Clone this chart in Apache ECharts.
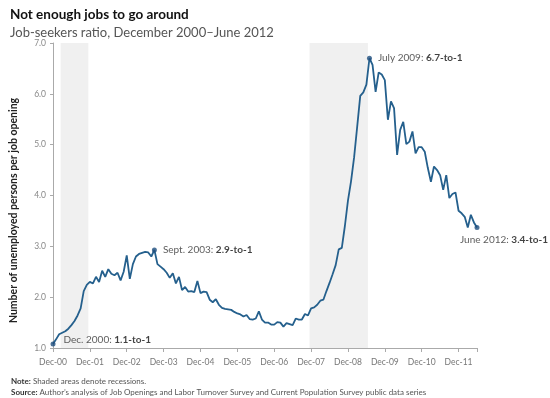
<!DOCTYPE html>
<html>
<head>
<meta charset="utf-8">
<script src="https://cdn.jsdelivr.net/npm/echarts@6/dist/echarts.min.js"></script>
<style>
  html, body { margin: 0; padding: 0; background: #fff; }
  #main { width: 550px; height: 398px; }
</style>
</head>
<body>
<div id="main"></div>
<script>
// job-seekers ratio, monthly, Dec 2000 (index 0) to June 2012 (index 138)
const ratio = [
  1.08,                                                                   // Dec-00
  1.17, 1.27, 1.30, 1.33, 1.38, 1.45, 1.53, 1.64, 1.78, 2.12, 2.24, 2.30, // 2001
  2.27, 2.40, 2.30, 2.52, 2.40, 2.55, 2.46, 2.43, 2.48, 2.33, 2.50, 2.82, // 2002
  2.36, 2.65, 2.80, 2.85, 2.87, 2.89, 2.88, 2.80, 2.93, 2.65, 2.60, 2.55, // 2003
  2.48, 2.38, 2.47, 2.27, 2.40, 2.14, 2.20, 2.11, 2.12, 2.10, 2.32, 2.08, // 2004
  2.11, 2.10, 1.95, 1.90, 1.96, 1.85, 1.79, 1.77, 1.76, 1.75, 1.71, 1.68, // 2005
  1.66, 1.62, 1.65, 1.57, 1.56, 1.58, 1.72, 1.56, 1.50, 1.50, 1.46, 1.46, // 2006
  1.51, 1.50, 1.42, 1.49, 1.47, 1.45, 1.58, 1.56, 1.56, 1.67, 1.64, 1.78, // 2007
  1.80, 1.85, 1.93, 1.95, 2.12, 2.28, 2.45, 2.63, 2.94, 2.97, 3.40, 3.90, // 2008
  4.28, 4.75, 5.35, 5.96, 6.03, 6.18, 6.70, 6.57, 6.04, 6.42, 6.38, 6.27, // 2009
  5.49, 5.85, 5.72, 4.80, 5.29, 5.45, 5.01, 5.06, 5.26, 4.83, 4.95, 4.95, // 2010
  4.86, 4.54, 4.27, 4.57, 4.50, 4.40, 4.11, 4.40, 3.95, 4.03, 4.06, 3.70, // 2011
  3.65, 3.58, 3.37, 3.62, 3.47, 3.37                                      // 2012
];

const tickLabels = ['Dec-00', 'Dec-01', 'Dec-02', 'Dec-03', 'Dec-04', 'Dec-05',
  'Dec-06', 'Dec-07', 'Dec-08', 'Dec-09', 'Dec-10', 'Dec-11'];

// recessions, first and last month (index from Dec 2000)
const recessionStart = [3, 84];
const recessionEnd = [11, 102];

// called-out points
const calloutIndex = [0, 33, 103, 138];
const calloutDate = ['Dec. 2000', 'Sept. 2003', 'July 2009', 'June 2012'];
const calloutText = ['1.1-to-1', '2.9-to-1', '6.7-to-1', '3.4-to-1'];

const FONT = 'Lato';
const LINE = '#25608d';

const chart = echarts.init(document.getElementById('main'));

const lineData = ratio.map((v, i) => [i, v]);

const callouts = calloutIndex.map((idx, k) => {
  const last = k === calloutIndex.length - 1;
  return {
    value: [idx, ratio[idx]],
    label: {
      show: true,
      position: last ? 'bottom' : 'right',
      distance: last ? 5 : 6,
      offset: last ? [27, 0] : (k === 0 ? [2, -4] : [0, 0]),
      formatter: '{n|' + calloutDate[k] + ': }{b|' + calloutText[k] + '}'
    }
  };
});

const noteRich = { b: { fontFamily: FONT, fontSize: 8, fontWeight: 'bold', color: '#333' } };

const option = {
  animation: false,
  textStyle: { fontFamily: FONT },
  title: [
    {
      text: 'Not enough jobs to go around',
      subtext: 'Job-seekers ratio, December 2000\u2013June 2012',
      left: 5,
      top: 3,
      itemGap: 4,
      textStyle: { fontFamily: FONT, fontSize: 13.5, fontWeight: 'bold', color: '#111' },
      subtextStyle: { fontFamily: FONT, fontSize: 13, color: '#555' }
    },
    {
      text: '{b|Note:} Shaded areas denote recessions.',
      left: 6,
      top: 372,
      textStyle: { fontFamily: FONT, fontSize: 8, fontWeight: 'normal', color: '#555', rich: noteRich }
    },
    {
      text: '{b|Source:} Author\u2019s analysis of Job Openings and Labor Turnover Survey and Current Population Survey public data series',
      left: 6,
      top: 383,
      textStyle: { fontFamily: FONT, fontSize: 8, fontWeight: 'normal', color: '#555', rich: noteRich }
    }
  ],
  grid: { left: 50, right: 73, top: 43, bottom: 50 },
  xAxis: {
    type: 'value',
    min: 0,
    max: ratio.length - 1,
    interval: 12,
    splitLine: { show: false },
    axisLine: { lineStyle: { color: '#aaa', width: 1 } },
    axisTick: { show: true, length: 4, lineStyle: { color: '#aaa' } },
    axisLabel: {
      margin: 10,
      fontFamily: FONT,
      fontSize: 8.5,
      color: '#777',
      formatter: v => (v % 12 === 0 ? tickLabels[v / 12] : '')
    }
  },
  yAxis: {
    type: 'value',
    min: 1,
    max: 7,
    interval: 1,
    name: 'Number of unemployed persons per job opening',
    nameLocation: 'middle',
    nameGap: 34,
    nameTextStyle: {
      fontFamily: FONT, fontSize: 10.5, fontWeight: 'bold', color: '#222',
      padding: [0, 30, 0, 0]
    },
    splitLine: { show: false },
    axisLine: { show: true, lineStyle: { color: '#aaa', width: 1 } },
    axisTick: { show: true, length: 3, lineStyle: { color: '#aaa' } },
    axisLabel: {
      margin: 7,
      fontFamily: FONT,
      fontSize: 8.5,
      color: '#888',
      formatter: v => v.toFixed(1)
    }
  },
  series: [
    {
      type: 'line',
      data: lineData,
      showSymbol: false,
      symbol: 'none',
      lineStyle: { color: LINE, width: 1.8 },
      z: 3,
      markArea: {
        silent: true,
        itemStyle: { color: '#f0f0f0' },
        data: recessionStart.map((s, k) => [
          { xAxis: s - 0.5 },
          { xAxis: recessionEnd[k] + 0.5 }
        ])
      }
    },
    {
      type: 'scatter',
      data: callouts,
      symbol: 'circle',
      symbolSize: 5,
      itemStyle: { color: '#1f4f7e' },
      z: 4,
      label: {
        fontFamily: FONT,
        rich: {
          n: { fontFamily: FONT, fontSize: 10, color: '#333' },
          b: { fontFamily: FONT, fontSize: 10, fontWeight: 'bold', color: '#111' }
        }
      }
    }
  ]
};

option && chart.setOption(option);
</script>
</body>
</html>
